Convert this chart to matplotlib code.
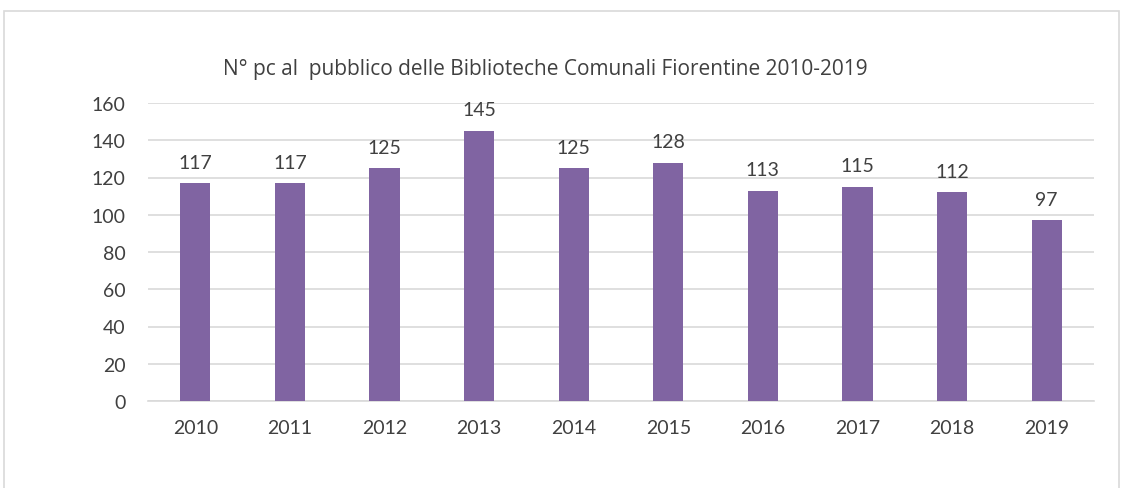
import matplotlib
matplotlib.use("Agg")
import matplotlib.pyplot as plt
from matplotlib.patches import Rectangle

years = ["2010", "2011", "2012", "2013", "2014", "2015", "2016", "2017", "2018", "2019"]
values = [117, 117, 125, 145, 125, 128, 113, 115, 112, 97]
yticks = [0, 20, 40, 60, 80, 100, 120, 140, 160]
title = "N° pc al  pubblico delle Biblioteche Comunali Fiorentine 2010-2019"

plt.rcParams['font.family'] = ['Lato', 'DejaVu Sans']
text_color = "#404040"
bar_color = "#8064A2"
grid_color = "#D9D9D9"

W, H = 1127, 489
fig = plt.figure(figsize=(W / 100, H / 100), dpi=100)
fig.patches.append(Rectangle((4 / W, -0.1), (1119 - 4) / W, 1.1 - 12 / H,
                             transform=fig.transFigure, fill=False,
                             edgecolor=grid_color, linewidth=1.2))

ax = fig.add_axes([148 / W, 1 - 402 / H, (1094 - 148) / W, (402 - 104) / H])
x = range(len(years))
bars = ax.bar(x, values, width=0.32, color=bar_color, zorder=3)
ax.set_xlim(-0.5, len(years) - 0.5)
ax.set_ylim(0, 160)
ax.set_yticks(yticks)
ax.set_xticks(list(x))
ax.set_xticklabels(years)
ax.yaxis.grid(True, color=grid_color, linewidth=1.2, zorder=0)
ax.set_axisbelow(True)
for s in ["top", "right", "left"]:
    ax.spines[s].set_visible(False)
ax.spines["bottom"].set_color(grid_color)
ax.spines["bottom"].set_linewidth(1.2)
ax.tick_params(axis="both", length=0, labelsize=14, colors=text_color)
ax.tick_params(axis="x", pad=13)
ax.tick_params(axis="y", pad=16)

for xi, v in zip(x, values):
    ax.annotate(str(v), (xi, v), xytext=(0, 9), textcoords="offset points",
                ha="center", va="bottom", fontsize=14, color=text_color)

fig.text(545 / W, 1 - 70 / H, title, ha="center", va="center",
         fontsize=15, color=text_color, family=['Open Sans', 'DejaVu Sans'])

fig.savefig("out.png", dpi=100)
